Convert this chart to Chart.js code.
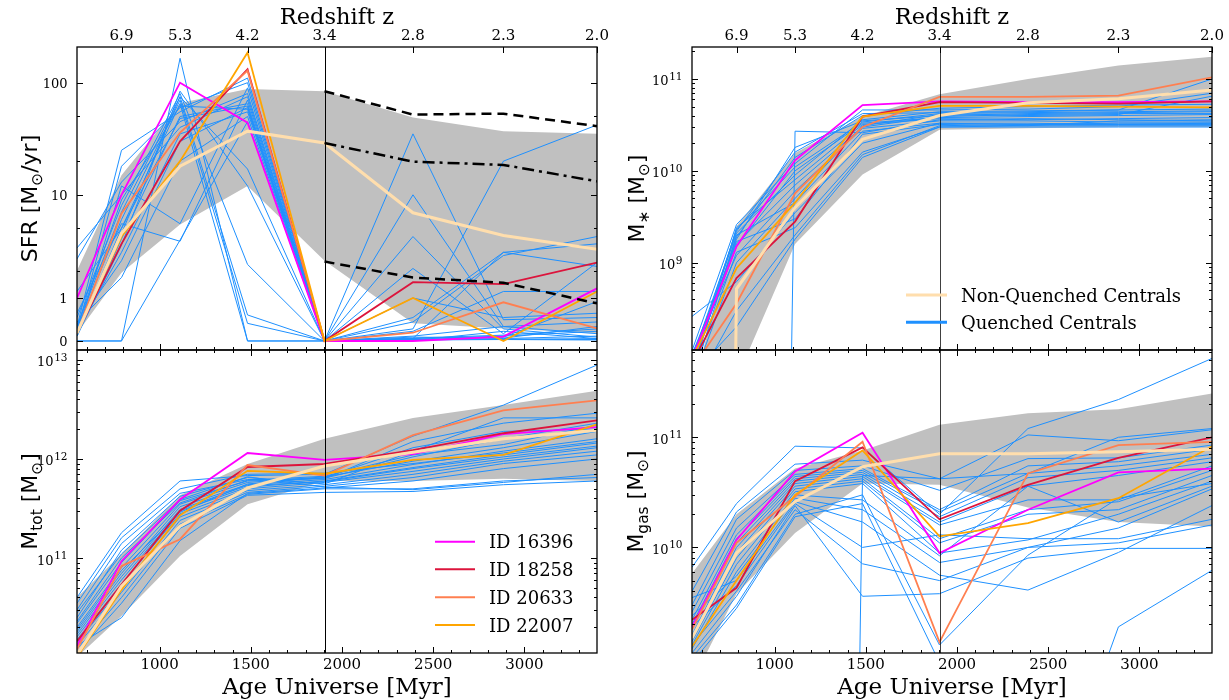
<!DOCTYPE html>
<html><head><meta charset="utf-8">
<script src="https://cdn.jsdelivr.net/npm/chart.js@4.4.1/dist/chart.umd.min.js"></script>
<style>
html,body{margin:0;padding:0;background:#fff;}
#wrap{position:relative;width:1229px;height:700px;overflow:hidden;background:#fff;}
canvas{position:absolute;left:0;top:0;}
</style></head><body>
<div id="wrap">
<canvas id="cTL" width="1229" height="700"></canvas>
<canvas id="cTR" width="1229" height="700"></canvas>
<canvas id="cBL" width="1229" height="700"></canvas>
<canvas id="cBR" width="1229" height="700"></canvas>
</div>
<script>
// ---------------- data ----------------
const AGE = [547, 791, 1112, 1482, 1904, 2389, 2885, 3398];
const Z_TICK_AGES = [791, 1112, 1482, 1904, 2389, 2885, 3398];
const Z_LABELS = ['6.9', '5.3', '4.2', '3.4', '2.8', '2.3', '2.0'];
const AGE_TICKS = [1000, 1500, 2000, 2500, 3000];
const AGE_TICK_LABELS = ['1000', '1500', '2000', '2500', '3000'];
const ID_LABELS = ['ID 16396', 'ID 18258', 'ID 20633', 'ID 22007'];

// SFR [Msun/yr]
const SFR_BAND_LO = [0.16, 1.9, 5.4, 12, 2.5, 0.37, 0.26, 0.16];
const SFR_BAND_HI = [2.0, 15, 66, 88, 84, 49, 37, 35];
const SFR_P84 = [null, null, null, null, 84, 52, 53, 41];
const SFR_MEDIAN = [null, null, null, null, 29, 19.8, 18.5, 13.2];
const SFR_P16 = [null, null, null, null, 2.45, 1.7, 1.5, 0.85];
const SFR_NONQ = [0.16, 4.5, 18, 37, 29, 6.9, 4.3, 3.2];
const SFR_ID16396 = [1.0, 10, 100, 44, 0, 0, 0.09, 1.3];
const SFR_ID18258 = [0.16, 3.6, 30, 132, 0, 1.52, 1.45, 2.4];
const SFR_ID20633 = [0.16, 6.8, 36, 128, 0, 0.17, 0.88, 0.26];
const SFR_ID22007 = [0.16, 4.2, 20, 186, 0, 1.0, 0, 1.2];
const SFR_QUENCHED = [
  [0, 0, 165, 0, 0, 0.02, 0.03, 0.05],
  [0, 0, 3.9, 45, 0, 0.05, 0.1, 0.2],
  [0.3, 25, 55, 110, 0, 0.05, 3.0, 3.6],
  [0.2, 18, 60, 100, 0, 35, 0.45, 0.5],
  [2.6, 13, 45, 80, 0, 10, 0.3, 0.15],
  [3.3, 10, 40, 75, 0, 0.4, 2.8, 4.2],
  [0.5, 8, 80, 2.3, 0, 0.25, 20, 42],
  [0.3, 7, 75, 0.56, 0, 4.2, 0.25, 0.08],
  [0.25, 6, 70, 0.37, 0, 2.1, 0.15, 2.4],
  [0.15, 5, 65, 0, 0, 0.2, 1.2, 1.2],
  [0.1, 4, 50, 65, 0, 0.5, 3.0, 2.2],
  [0.2, 3, 35, 55, 0, 0.03, 0.08, 0.9],
  [0.35, 2.5, 30, 60, 0, 0.1, 0.3, 0.4],
  [0.4, 1.7, 20, 50, 0, 0.02, 0.05, 0.1],
  [0.12, 12, 5.5, 90, 0, 0.01, 0.2, 0.05],
  [0.6, 5.5, 3.8, 70, 0, 0.03, 0.04, 0.03],
  [0.2, 4.5, 75, 17, 0, 0.08, 0.06, 0.3],
  [0.1, 3.5, 84, 12, 0, 0.04, 0.03, 0.02],
  [0.3, 9, 62, 58, 0, 1.0, 0.5, 0.6],
  [1.2, 5, 48, 62, 0, 0.06, 0.12, 0.25]
];

// Stellar mass [Msun]
const MSTAR_BAND_LO = [1e6, 5.4e7, 1.6e9, 9.1e9, 2.8e10, 2.9e10, 3.0e10, 3.0e10];
const MSTAR_BAND_HI = [4e7, 2.5e9, 1.56e10, 3.9e10, 6.8e10, 1.0e11, 1.4e11, 1.75e11];
const MSTAR_NONQ = [0, 5.2e8, 4.0e9, 2.2e10, 4.0e10, 5.5e10, 6.1e10, 7.6e10];
const MSTAR_ID16396 = [9e7, 1.5e9, 1.3e10, 5.2e10, 5.7e10, 5.6e10, 5.6e10, 5.7e10];
const MSTAR_ID18258 = [8e7, 6.8e8, 2.8e9, 3.9e10, 5.6e10, 5.5e10, 5.4e10, 5.7e10];
const MSTAR_ID20633 = [7e7, 3.6e8, 5.7e9, 3.0e10, 6.4e10, 6.4e10, 6.6e10, 1.04e11];
const MSTAR_ID22007 = [9e7, 8.7e8, 4.5e9, 3.9e10, 5.1e10, 5.1e10, 5.0e10, 4.9e10];
const MSTAR_QUENCHED = [
  [1.1e8, 2.6e9, 1.2e10, 4.6e10, 4.6e10, 4.7e10, 5.0e10, 7.0e10],
  [9e7, 2.2e9, 1.6e10, 4.2e10, 4.3e10, 4.4e10, 4.6e10, 1.0e11],
  [0, 0, 2.7e10, 2.6e10, 3.6e10, 3.7e10, 3.6e10, 3.5e10],
  [2.6e8, 6.2e8, 3.5e9, 2.0e10, 3.3e10, 3.3e10, 3.2e10, 3.2e10],
  [7e7, 1.8e9, 1.8e10, 3.5e10, 4.0e10, 4.2e10, 4.3e10, 4.4e10],
  [8e7, 1.5e9, 1.0e10, 3.3e10, 3.8e10, 3.9e10, 4.0e10, 4.1e10],
  [6e7, 2.4e9, 8e9, 3.2e10, 3.7e10, 3.6e10, 3.7e10, 3.8e10],
  [1e8, 1.2e9, 6e9, 2.9e10, 3.5e10, 3.5e10, 3.4e10, 3.4e10],
  [5e7, 2.0e9, 4.5e9, 2.7e10, 3.3e10, 3.2e10, 3.3e10, 3.3e10],
  [9e7, 1.7e9, 3.0e9, 2.5e10, 3.2e10, 3.1e10, 3.1e10, 3.1e10],
  [6e7, 1.3e9, 2.4e9, 1.6e10, 3.0e10, 3.0e10, 3.0e10, 3.0e10],
  [4e7, 3.0e8, 2.0e9, 1.5e10, 3.1e10, 3.2e10, 3.2e10, 3.3e10],
  [7e7, 1.9e9, 1.4e10, 4.0e10, 4.8e10, 5.0e10, 5.2e10, 5.3e10],
  [8e7, 2.1e9, 9e9, 3.6e10, 4.4e10, 4.5e10, 4.6e10, 4.7e10],
  [5e7, 1.0e9, 5e9, 3.1e10, 4.1e10, 4.0e10, 4.1e10, 6.5e10],
  [6e7, 2.0e8, 1.8e9, 1.4e10, 3.0e10, 3.1e10, 3.5e10, 3.6e10],
  [1e8, 1.6e9, 7e9, 3.0e10, 3.9e10, 4.1e10, 4.2e10, 4.2e10],
  [8e7, 2.3e9, 1.1e10, 3.4e10, 4.2e10, 4.3e10, 4.4e10, 4.5e10]
];

// Total mass [Msun]
const MTOT_BAND_LO = [1e10, 2.6e10, 1.05e11, 3.5e11, 6.0e11, 6.0e11, 6.3e11, 6.0e11];
const MTOT_BAND_HI = [4e10, 1.1e11, 4.3e11, 8.9e11, 1.6e12, 2.6e12, 3.5e12, 4.9e12];
const MTOT_NONQ = [1.05e10, 5.2e10, 2.1e11, 5.1e11, 8.5e11, 1.17e12, 1.6e12, 1.95e12];
const MTOT_ID16396 = [1.3e10, 9.3e10, 3.9e11, 1.15e12, 9.8e11, 1.12e12, 1.78e12, 2.1e12];
const MTOT_ID18258 = [1.45e10, 5.4e10, 3.0e11, 8.3e11, 8.9e11, 1.23e12, 1.82e12, 2.45e12];
const MTOT_ID20633 = [1.2e10, 8.3e10, 1.55e11, 8.7e11, 6.8e11, 1.74e12, 3.1e12, 3.9e12];
const MTOT_ID22007 = [1.0e10, 4.8e10, 2.7e11, 7.6e11, 7.1e11, 9.8e11, 1.1e12, 2.24e12];
const MTOT_QUENCHED = [
  [4.0e10, 1.8e11, 6.0e11, 6.8e11, 7.0e11, 1.7e12, 3.5e12, 8.9e12],
  [3.0e10, 1.4e11, 4.5e11, 6.2e11, 6.3e11, 1.5e12, 2.3e12, 2.9e12],
  [2.5e10, 1.2e11, 4.2e11, 6.5e11, 5.6e11, 1.2e12, 2.6e12, 2.6e12],
  [2.2e10, 9e10, 3.8e11, 6.0e11, 6.4e11, 1.05e12, 1.6e12, 2.3e12],
  [2.0e10, 8e10, 3.5e11, 5.8e11, 6.6e11, 9.5e11, 1.3e12, 1.9e12],
  [1.8e10, 7e10, 3.3e11, 5.5e11, 6.2e11, 8.8e11, 1.2e12, 1.6e12],
  [1.6e10, 6e10, 3.0e11, 5.2e11, 6.0e11, 8.2e11, 1.1e12, 1.45e12],
  [1.5e10, 5.5e10, 2.8e11, 5.0e11, 5.8e11, 7.5e11, 1.0e12, 1.3e12],
  [1.4e10, 5e10, 2.6e11, 4.8e11, 5.5e11, 7.0e11, 9.5e11, 1.2e12],
  [1.3e10, 4.5e10, 2.4e11, 4.6e11, 5.3e11, 6.5e11, 9.0e11, 1.1e12],
  [1.2e10, 4e10, 2.2e11, 4.4e11, 5.0e11, 5.0e11, 6.0e11, 6.5e11],
  [1.1e10, 3.5e10, 2.0e11, 4.3e11, 4.6e11, 4.7e11, 5.5e11, 6.0e11],
  [2.8e10, 1.1e11, 3.9e11, 6.6e11, 5.2e11, 4.9e11, 5.8e11, 7.0e11],
  [1.9e10, 7.5e10, 2.9e11, 5.6e11, 6.5e11, 1.3e12, 1.9e12, 2.0e12],
  [2.3e10, 1.0e11, 3.6e11, 6.1e11, 6.7e11, 1.1e12, 1.4e12, 2.2e12],
  [1.7e10, 6.5e10, 3.1e11, 5.4e11, 5.9e11, 8.0e11, 1.05e12, 1.35e12],
  [1.3e10, 2.5e10, 1.5e11, 4.5e11, 5.1e11, 6.0e11, 8.0e11, 1.0e12],
  [3.5e10, 1.6e11, 5.0e11, 7.0e11, 7.2e11, 9.0e11, 1.15e12, 1.5e12]
];

// Gas mass [Msun]
const MGAS_BAND_LO = [6e8, 3.8e9, 1.35e10, 3.8e10, 3.7e10, 2.3e10, 1.7e10, 1.55e10];
const MGAS_BAND_HI = [5.8e9, 2.0e10, 5.2e10, 7.6e10, 1.3e11, 1.65e11, 1.8e11, 2.5e11];
const MGAS_NONQ = [1.5e9, 8.9e9, 2.6e10, 5.4e10, 7.1e10, 7.1e10, 7.4e10, 7.8e10];
const MGAS_ID16396 = [1.9e9, 1.17e10, 4.9e10, 1.1e11, 8.9e9, 2.2e10, 4.8e10, 5.2e10];
const MGAS_ID18258 = [2.2e9, 4.3e9, 4.0e10, 8.1e10, 1.8e10, 3.7e10, 6.5e10, 1.0e11];
const MGAS_ID20633 = [1.8e9, 1.1e10, 2.9e10, 9.1e10, 1.38e9, 4.7e10, 8.5e10, 9.1e10];
const MGAS_ID22007 = [1.26e9, 5.0e9, 3.0e10, 7.6e10, 1.26e10, 1.66e10, 2.8e10, 8.3e10];
const MGAS_QUENCHED = [
  [6.6e9, 2.5e10, 8.3e10, 8.0e10, 2.0e10, 1.2e11, 2.2e11, 5.2e11],
  [4e9, 2.1e10, 5.7e10, 6.2e10, 4.2e10, 1.05e11, 9.3e10, 1.17e11],
  [3e9, 1.8e10, 5.0e10, 5.5e10, 3.3e10, 6.4e10, 6.5e10, 8.5e10],
  [2.6e9, 1.5e10, 4.6e10, 5.2e10, 2.2e10, 5.5e10, 6.0e10, 7.8e10],
  [2.2e9, 1.3e10, 4.4e10, 5.0e10, 2.1e10, 4.7e10, 5.5e10, 7.0e10],
  [2e9, 1.2e10, 4.2e10, 4.8e10, 1.9e10, 4.3e10, 5.0e10, 6.5e10],
  [1.8e9, 1.1e10, 4.0e10, 4.6e10, 1.7e10, 3.6e10, 4.5e10, 6.0e10],
  [1.6e9, 1.0e10, 3.8e10, 4.4e10, 1.6e10, 2.7e10, 2.7e10, 5.5e10],
  [1.5e9, 9e9, 3.6e10, 4.2e10, 1.2e10, 2.2e10, 2.6e10, 5.0e10],
  [1.4e9, 8e9, 3.4e10, 4.0e10, 1.1e10, 2.0e10, 2.2e10, 4.5e10],
  [1.3e9, 7e9, 3.2e10, 3.8e10, 8.9e9, 1.17e10, 2.0e10, 4.0e10],
  [1.2e9, 6e9, 3.0e10, 2.7e10, 8.4e9, 3.6e10, 1.7e10, 3.6e10],
  [2.4e9, 5.5e9, 2.8e10, 2.2e10, 7.3e9, 1.0e10, 1.5e10, 3.4e10],
  [3.5e9, 5e9, 2.6e10, 1.7e10, 5.6e9, 4.1e9, 9e9, 2.4e10],
  [1.9e9, 4.5e9, 2.5e10, 1.0e10, 1.3e10, 1.2e10, 1.2e10, 1.8e10],
  [1.1e9, 3.6e9, 2.4e10, 3.6e9, 3.8e9, 8.0e9, 9.8e9, 9.8e9],
  [1.3e9, 4e9, 2.2e10, 7.1e9, 5e9, 1.0e10, 1.1e10, 1.6e10],
  [0, 0, 0, 4.5e10, 4.2e10, 4.7e10, 1.0e11, 1.2e11],
  [1.0e9, 3e9, 2.0e10, 3.0e10, 1.3e9, 8.5e9, 2.8e10, 3.8e10],
  [9e8, 2.8e9, 1.9e10, 2.5e10, 9e8, 1e7, 1.9e9, 6.2e9]
];

// ---------------- styles ----------------
const C_BAND = '#c0c0c0';
const C_Q = '#1e90ff';
const C_NONQ = '#ffdead';
const C_IDS = ['#ff00ff', '#dc143c', '#ff7f50', '#ffa500'];
const SERIF = '"DejaVu Serif", serif';
const SANS = '"DejaVu Sans", sans-serif';

// ---------------- custom scales ----------------
class AsinhScale extends Chart.LinearScale {
  configure() {
    super.configure();
    this._a0 = Math.asinh(this.min);
    this._a1 = Math.asinh(this.max);
  }
  getPixelForValue(v) {
    if (v === null || v === undefined || isNaN(v)) return NaN;
    return this.getPixelForDecimal((Math.asinh(v) - this._a0) / (this._a1 - this._a0));
  }
  getValueForPixel(p) {
    return Math.sinh(this._a0 + this.getDecimalForPixel(p) * (this._a1 - this._a0));
  }
}
AsinhScale.id = 'asinh';
AsinhScale.defaults = Chart.LinearScale.defaults;

class MplLogScale extends Chart.LogarithmicScale {
  parse(raw) {
    if (raw === null || raw === undefined) return null;
    const v = +raw;
    return isFinite(v) ? v : null;
  }
  getPixelForValue(v) {
    if (v === null || v === undefined || isNaN(v)) return NaN;
    return super.getPixelForValue(v > 0 ? v : 1e-30);
  }
}
MplLogScale.id = 'mpllog';
MplLogScale.defaults = Chart.LogarithmicScale.defaults;
Chart.register(AsinhScale, MplLogScale);

// ---------------- helpers ----------------
function pts(arr) { return AGE.map((x, i) => ({x: x, y: arr[i]})); }
function logMinor(lo, hi) {
  const out = [];
  for (let e = Math.floor(Math.log10(lo)); e <= Math.ceil(Math.log10(hi)); e++) {
    for (let m = 2; m <= 9; m++) { const v = m * Math.pow(10, e); if (v > lo && v < hi) out.push(v); }
  }
  return out;
}
function drawRich(ctx, parts, cx, cy, size, rotate, font) {
  ctx.save();
  ctx.translate(cx, cy);
  if (rotate) ctx.rotate(-Math.PI / 2);
  let total = 0;
  const ws = parts.map(p => { ctx.font = (p.sub ? size * 0.7 : size) + 'px ' + font; const w = ctx.measureText(p.t).width; total += w; return w; });
  let x = -total / 2;
  ctx.textAlign = 'left'; ctx.textBaseline = 'alphabetic'; ctx.fillStyle = '#000';
  parts.forEach((p, i) => {
    ctx.font = (p.sub ? size * 0.7 : size) + 'px ' + font;
    ctx.fillText(p.t, x, size * 0.36 + (p.sub ? size * 0.22 : 0));
    x += ws[i];
  });
  ctx.restore();
}

function axesPlugin(P) {
  return {
    id: 'axes_' + P.key,
    afterDatasetsDraw(chart) {
      const ctx = chart.ctx, a = chart.chartArea, xs = chart.scales.x, ys = chart.scales.y;
      ctx.save();
      const vx = Math.round(xs.getPixelForValue(AGE[4])) + 0.5;
      ctx.strokeStyle = P.vColor; ctx.lineWidth = 1;
      ctx.beginPath(); ctx.moveTo(vx, a.top); ctx.lineTo(vx, a.bottom); ctx.stroke();
      ctx.strokeStyle = '#000'; ctx.lineWidth = 1;
      ctx.beginPath();
      const L = (x1, y1, x2, y2) => { ctx.moveTo(x1, y1); ctx.lineTo(x2, y2); };
      const minorAges = [];
      for (let v = 600; v < 3398; v += 100) if (AGE_TICKS.indexOf(v) < 0) minorAges.push(v);
      AGE_TICKS.forEach(v => { const x = Math.round(xs.getPixelForValue(v)) + 0.5; L(x, a.bottom, x, a.bottom - 6); if (!P.top) L(x, a.top, x, a.top + 6); });
      minorAges.forEach(v => { const x = Math.round(xs.getPixelForValue(v)) + 0.5; L(x, a.bottom, x, a.bottom - 3); if (!P.top) L(x, a.top, x, a.top + 3); });
      if (P.top) Z_TICK_AGES.forEach(v => { const x = Math.round(xs.getPixelForValue(v)) + 0.5; L(x, a.top, x, a.top + 6); });
      P.yMajor.forEach(v => { const y = Math.round(ys.getPixelForValue(v)) + 0.5; L(a.left, y, a.left + 6, y); L(a.right, y, a.right - 6, y); });
      P.yMinor.forEach(v => { const y = Math.round(ys.getPixelForValue(v)) + 0.5; L(a.left, y, a.left + 3, y); L(a.right, y, a.right - 3, y); });
      ctx.stroke();
      ctx.lineWidth = 1.3;
      ctx.strokeRect(a.left, a.top, a.right - a.left, a.bottom - a.top);
      ctx.fillStyle = '#000';
      if (P.top) {
        ctx.font = '15px ' + SERIF; ctx.textAlign = 'center'; ctx.textBaseline = 'alphabetic';
        Z_TICK_AGES.forEach((v, i) => ctx.fillText(Z_LABELS[i], xs.getPixelForValue(v), 40));
        ctx.font = '22.5px ' + SERIF;
        ctx.fillText('Redshift z', (a.left + a.right) / 2, 24);
      } else {
        ctx.font = '15px ' + SERIF; ctx.textAlign = 'center'; ctx.textBaseline = 'alphabetic';
        AGE_TICKS.forEach((v, i) => ctx.fillText(AGE_TICK_LABELS[i], xs.getPixelForValue(v), 668.5));
        ctx.font = '23px ' + SERIF;
        ctx.fillText('Age Universe [Myr]', (a.left + a.right) / 2, 694);
      }
      const xr = a.left - 9.5;
      P.yMajor.forEach((v, i) => {
        const y = ys.getPixelForValue(v);
        const lab = P.yLabels[i];
        if (typeof lab === 'string') {
          ctx.font = '13px ' + SERIF; ctx.textAlign = 'right'; ctx.textBaseline = 'alphabetic';
          ctx.fillText(lab, xr, y + 4.8);
        } else {
          ctx.font = '13px ' + SERIF; const wb = ctx.measureText('10').width;
          ctx.font = '10.5px ' + SERIF; const we = ctx.measureText(lab.e).width;
          const x0 = xr - wb - we - 0.5;
          ctx.textAlign = 'left'; ctx.textBaseline = 'alphabetic';
          ctx.font = '13px ' + SERIF; ctx.fillText('10', x0, y + 6.5);
          ctx.font = '10.5px ' + SERIF; ctx.fillText(lab.e, x0 + wb + 0.5, y + 1);
        }
      });
      drawRich(ctx, P.yTitle, P.yTitleX, (a.top + a.bottom) / 2, 22, true, SANS);
      if (P.legend) {
        const Lg = P.legend;
        ctx.font = '18px ' + SERIF; ctx.textAlign = 'left'; ctx.textBaseline = 'alphabetic';
        Lg.items.forEach((it, i) => {
          const y = Lg.ys[i];
          ctx.strokeStyle = it.c; ctx.lineWidth = Lg.lw;
          ctx.beginPath(); ctx.moveTo(Lg.x0, y); ctx.lineTo(Lg.x1, y); ctx.stroke();
          ctx.fillStyle = '#000'; ctx.fillText(it.t, Lg.xt, y + 6.5);
        });
      }
      ctx.restore();
    }
  };
}

function buildDatasets(D) {
  const ds = [];
  ds.push({data: pts(D.lo), borderWidth: 0, borderColor: 'rgba(0,0,0,0)', fill: false, order: 1000});
  ds.push({data: pts(D.hi), borderWidth: 0, borderColor: 'rgba(0,0,0,0)', backgroundColor: C_BAND, fill: '-1', order: 999});
  D.q.forEach(arr => ds.push({data: pts(arr), borderColor: C_Q, borderWidth: 1, fill: false, order: 500}));
  D.ids.forEach((arr, i) => ds.push({data: pts(arr), borderColor: C_IDS[i], borderWidth: 1.8, fill: false, order: 100 - i}));
  ds.push({data: pts(D.nonq), borderColor: C_NONQ, borderWidth: 3, fill: false, order: 50});
  if (D.black) {
    ds.push({data: pts(D.black[0]), borderColor: '#000', borderWidth: 2.5, borderDash: [10, 6], fill: false, order: 10});
    ds.push({data: pts(D.black[1]), borderColor: '#000', borderWidth: 2.5, borderDash: [12, 5, 3, 5], fill: false, order: 10});
    ds.push({data: pts(D.black[2]), borderColor: '#000', borderWidth: 2.5, borderDash: [10, 6], fill: false, order: 10});
  }
  return ds;
}

function makeChart(id, P, D) {
  return new Chart(document.getElementById(id), {
    type: 'line',
    data: {datasets: buildDatasets(D)},
    options: {
      responsive: false, animation: false, devicePixelRatio: 1, events: [],
      layout: {padding: {left: P.l, top: P.t, right: 1229 - P.r, bottom: 700 - P.b}},
      plugins: {legend: {display: false}, tooltip: {enabled: false}},
      elements: {point: {radius: 0}, line: {tension: 0, borderCapStyle: 'butt', borderJoinStyle: 'miter'}},
      scales: {
        x: {type: 'linear', min: AGE[0], max: AGE[AGE.length - 1], display: false},
        y: {type: P.yType, min: P.ymin, max: P.ymax, display: false}
      }
    },
    plugins: [axesPlugin(P)]
  });
}

const M_SUN = [{t: ' [M'}, {t: '\u2299', sub: true}, {t: ']'}];

makeChart('cTL', {
  key: 'TL', l: 77, t: 47, r: 597, b: 350, top: true, vColor: '#000',
  yType: 'asinh', ymin: -0.186, ymax: 208,
  yMajor: [0, 1, 10, 100], yLabels: ['0', '1', '10', '100'], yMinor: [2, 5, 20, 50],
  yTitle: [{t: 'SFR [M'}, {t: '\u2299', sub: true}, {t: '/yr]'}], yTitleX: 29
}, {lo: SFR_BAND_LO, hi: SFR_BAND_HI, q: SFR_QUENCHED, ids: [SFR_ID16396, SFR_ID18258, SFR_ID20633, SFR_ID22007], nonq: SFR_NONQ, black: [SFR_P84, SFR_MEDIAN, SFR_P16]});

makeChart('cTR', {
  key: 'TR', l: 692, t: 47, r: 1212, b: 350, top: true, vColor: 'rgba(0,0,0,0.75)',
  yType: 'mpllog', ymin: 1.12e8, ymax: 2.23e11,
  yMajor: [1e9, 1e10, 1e11], yLabels: [{e: '9'}, {e: '10'}, {e: '11'}], yMinor: logMinor(1.12e8, 2.23e11),
  yTitle: [{t: 'M'}, {t: '\u2217', sub: true}].concat(M_SUN), yTitleX: 636,
  legend: {x0: 906, x1: 947, xt: 961, ys: [295, 322.3], lw: 3, items: [{t: 'Non-Quenched Centrals', c: C_NONQ}, {t: 'Quenched Centrals', c: C_Q}]}
}, {lo: MSTAR_BAND_LO, hi: MSTAR_BAND_HI, q: MSTAR_QUENCHED, ids: [MSTAR_ID16396, MSTAR_ID18258, MSTAR_ID20633, MSTAR_ID22007], nonq: MSTAR_NONQ});

makeChart('cBL', {
  key: 'BL', l: 77, t: 350, r: 597, b: 653, top: false, vColor: '#000',
  yType: 'mpllog', ymin: 1.10e10, ymax: 1.26e13,
  yMajor: [1e11, 1e12, 1e13], yLabels: [{e: '11'}, {e: '12'}, {e: '13'}], yMinor: logMinor(1.10e10, 1.26e13),
  yTitle: [{t: 'M'}, {t: 'tot', sub: true}].concat(M_SUN), yTitleX: 29,
  legend: {x0: 435, x1: 475, xt: 489, ys: [541.7, 569.3, 597.3, 625], lw: 2, items: ID_LABELS.map((t, i) => ({t: t, c: C_IDS[i]}))}
}, {lo: MTOT_BAND_LO, hi: MTOT_BAND_HI, q: MTOT_QUENCHED, ids: [MTOT_ID16396, MTOT_ID18258, MTOT_ID20633, MTOT_ID22007], nonq: MTOT_NONQ});

makeChart('cBR', {
  key: 'BR', l: 692, t: 350, r: 1212, b: 653, top: false, vColor: 'rgba(0,0,0,0.75)',
  yType: 'mpllog', ymin: 1.10e9, ymax: 6.2e11,
  yMajor: [1e10, 1e11], yLabels: [{e: '10'}, {e: '11'}], yMinor: logMinor(1.10e9, 6.2e11),
  yTitle: [{t: 'M'}, {t: 'gas', sub: true}].concat(M_SUN), yTitleX: 635
}, {lo: MGAS_BAND_LO, hi: MGAS_BAND_HI, q: MGAS_QUENCHED, ids: [MGAS_ID16396, MGAS_ID18258, MGAS_ID20633, MGAS_ID22007], nonq: MGAS_NONQ});
</script>
</body></html>
